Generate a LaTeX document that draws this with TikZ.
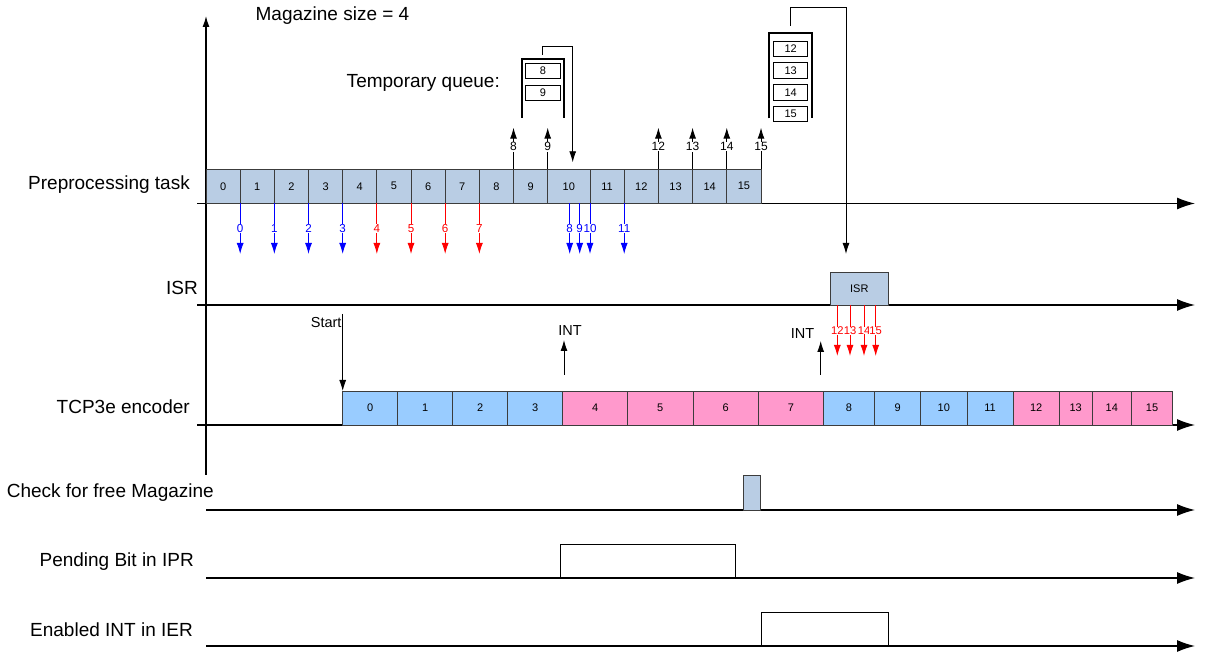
\documentclass[tikz,border=0pt]{standalone}
\usepackage{fontspec}
\setmainfont{Liberation Sans}
\usetikzlibrary{positioning, arrows.meta, calc}

\definecolor{taskfill}{RGB}{185,205,228}
\definecolor{encblue}{RGB}{153,204,255}
\definecolor{encpink}{RGB}{255,153,204}
\definecolor{cellline}{RGB}{60,60,60}
\newcommand{\smallnum}{\fontsize{11}{13}\selectfont}

\begin{document}
\begin{tikzpicture}[x=1pt, y=1pt,
    every node/.style={font=\fontsize{19}{22}\selectfont, inner sep=0pt},
    cell/.style={rectangle, draw=cellline, line width=0.9pt, outer sep=0pt, inner sep=0pt, font=\smallnum},
    pcell/.style={cell, fill=taskfill, minimum height=34.5pt},
    ecell/.style={cell, minimum height=34pt},
    qbox/.style={rectangle, draw, line width=0.9pt, inner sep=0pt, minimum width=34.4pt, minimum height=14.5pt, font=\smallnum},
    stack/.style={rectangle, inner sep=0pt, outer sep=0pt},
    bracket/.style={line width=2.2pt},
    pulse/.style={rectangle, draw, line width=0.9pt, outer sep=0pt, inner sep=0pt, minimum height=33.7pt, anchor=south west},
    timeline/.style={line width=1.3pt, -{Latex[length=18pt, width=12pt]}},
    tick/.style={line width=0.9pt, -{Latex[length=11pt, width=7pt]}},
    num/.style={font=\fontsize{11.6}{13}\selectfont, fill=white, inner sep=0.6pt},
    note/.style={font=\fontsize{14.5}{17}\selectfont}]

  \useasboundingbox (0,0) rectangle (1210,653);

  % axes
  \coordinate (org) at (206,178);
  \coordinate (top) at (206,637);
  \draw[line width=1.3pt, -{Latex[length=11pt, width=7pt]}] (org) -- (top);
  \foreach \n/\x/\y in {pre/197/449.5, isr/197/348, enc/197/228, chk/206/143, ipr/206/75, ier/206/7} {
    \coordinate (\n-a) at (\x,\y);
    \coordinate (\n-b) at (1195,\y);
    \draw[timeline] (\n-a) -- (\n-b);
  }

  % row labels
  \node[anchor=east] (lpre) at (190,468) {Preprocessing task};
  \node[anchor=east] (lisr) at (198,365.3) {ISR};
  \node[anchor=east] (lenc) at (190,246) {TCP3e encoder};
  \node[anchor=east] (lchk) at (214,160) {Check for free Magazine};
  \node[anchor=east] (lipr) at (194,91.5) {Pending Bit in IPR};
  \node[anchor=east] (lier) at (193,23) {Enabled INT in IER};
  \node (msize) at (332.5,637.7) {Magazine size = 4};
  \node (tqlbl) at (423.3,569.7) {Temporary queue:};

  % preprocessing task
  \coordinate (pstart) at (206,466.75);
  \foreach \w [count=\i from 0, remember=\i as \j (initially start)] in
      {34.17,34.17,34.17,34.17,34.17,34.17,34.17,34.17,34.17,34.17,42.3,34.2,34.2,34.2,34.2,34.2}
    \node[pcell, minimum width=\w pt, right=0pt of p\j] (p\i) {\i};

  \foreach \i/\c in {0/blue,1/blue,2/blue,3/blue,4/red,5/red,6/red,7/red,11/blue}
    \draw[tick, \c] (p\i.south east) -- ++(0,-50.5) node[num, midway] {\i};
  \foreach \i/\dx in {8/-20.3, 9/-10.3, 10/0}
    \draw[tick, blue] ([xshift=\dx pt]p10.south east) -- ++(0,-50.5) node[num, midway] {\i};
  \foreach \i in {8,9,12,13,14,15}
    \draw[tick] (p\i.north east) -- ++(0,41.3) node[num, pos=0.54, font=\fontsize{12}{14}\selectfont] {\i};

  % temporary queue
  \node[stack, minimum width=42.3pt, minimum height=59pt] (tq) at (542.85,564.5) {};
  \draw[bracket] (tq.south west) |- (tq.north east) -- (tq.south east);
  \node[qbox, below=4.3pt of tq.north] (q8) {8};
  \node[qbox, below=6.7pt of q8] (q9) {9};
  \draw[tick] ([yshift=4pt]tq.north) -- ++(0,9) -| ([xshift=3.85pt, yshift=6.7pt]p10.north);

  % magazine
  \node[stack, minimum width=42.7pt, minimum height=85.6pt] (mag) at (790.65,577.5) {};
  \draw[bracket] (mag.south west) |- (mag.north east) -- (mag.south east);
  \node[qbox, minimum height=15.3pt, below=8pt of mag.north] (m12) {12};
  \node[qbox, minimum height=15.3pt, below=5.6pt of m12] (m13) {13};
  \node[qbox, minimum height=15.3pt, below=5.6pt of m13] (m14) {14};
  \node[qbox, minimum height=15.3pt, below=5.6pt of m14] (m15) {15};

  % ISR
  \node[cell, fill=taskfill, minimum width=58.7pt, minimum height=33.3pt] (isrbox) at (859.35,364.35) {ISR};
  \draw[tick] ([yshift=6.7pt]mag.north) -- ++(0,18.7) -| ([xshift=-13.35pt, yshift=18pt]isrbox.north);
  \foreach \i/\dx in {12/7.3, 13/20, 14/34, 15/45.7}
    \draw[tick, red] ([xshift=\dx pt]isrbox.south west) -- ++(0,-50.7)
      node[num, midway, inner sep=0pt, font=\fontsize{11.2}{13}\selectfont] {\i};

  % TCP3e encoder
  \coordinate (estart) at (342.7,245);
  \foreach \w/\c [count=\i from 0, remember=\i as \j (initially start)] in
      {55/encblue,55/encblue,55/encblue,55/encblue,64.9/encpink,65.4/encpink,65.4/encpink,65.1/encpink,
       50.9/encblue,46.3/encblue,46.3/encblue,46/encblue,46.3/encpink,32.7/encpink,39.7/encpink,40.6/encpink}
    \node[ecell, fill=\c, minimum width=\w pt, right=0pt of e\j] (e\i) {\i};

  \coordinate (start) at ([yshift=77pt]e0.north west);
  \draw[tick] (start) -- (e0.north west);
  \node[note, anchor=east] (startlbl) at ([xshift=-1pt, yshift=-8.7pt]start) {Start};
  \draw[tick] ([xshift=1.3pt, yshift=16pt]e4.north west) -- ++(0,35)
    node[note, anchor=south, xshift=6pt, yshift=4pt] (int1) {INT};
  \draw[tick] ([xshift=-2.8pt, yshift=16pt]e7.north east) -- ++(0,34)
    node[note, anchor=east, xshift=-6pt, yshift=7pt] (int2) {INT};

  % flags
  \node[pulse, fill=taskfill, draw=cellline, minimum width=17.4pt, minimum height=34.3pt] (chkpulse) at (743.3,143) {};
  \node[pulse, minimum width=175.3pt] (iprpulse) at (560,75) {};
  \node[pulse, minimum width=127.7pt] (ierpulse) at (761,7) {};
\end{tikzpicture}
\end{document}
